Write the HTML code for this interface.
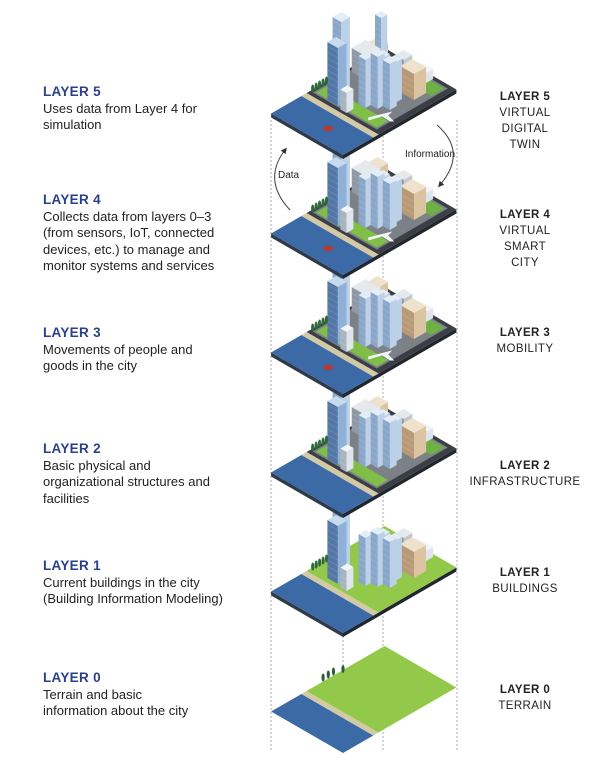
<!DOCTYPE html>
<html><head><meta charset="utf-8"><style>
body{margin:0;background:#fff;width:600px;height:778px;overflow:hidden;position:relative;font-family:"Liberation Sans",sans-serif}
svg{position:absolute;left:0;top:0}
.l{position:absolute;left:43px;font-size:13px;line-height:16.5px;color:#222}
.l b{color:#2c3f8f;font-size:13.5px;letter-spacing:.3px}
.r{position:absolute;width:120px;left:465px;text-align:center;font-size:11.5px;line-height:16px;color:#222;letter-spacing:.4px}
.r b{font-size:11.5px}
</style></head><body>
<svg id="s" width="600" height="778" viewBox="0 0 600 778"></svg>
<div class="l" style="top:84px"><b>LAYER 5</b><br>Uses data from Layer 4 for<br>simulation</div>
<div class="l" style="top:192px"><b>LAYER 4</b><br>Collects data from layers 0–3<br>(from sensors, IoT, connected<br>devices, etc.) to manage and<br>monitor systems and services</div>
<div class="l" style="top:325px"><b>LAYER 3</b><br>Movements of people and<br>goods in the city</div>
<div class="l" style="top:441px"><b>LAYER 2</b><br>Basic physical and<br>organizational structures and<br>facilities</div>
<div class="l" style="top:558px"><b>LAYER 1</b><br>Current buildings in the city<br>(Building Information Modeling)</div>
<div class="l" style="top:670px"><b>LAYER 0</b><br>Terrain and basic<br>information about the city</div>
<div class="r" style="top:89px"><b>LAYER 5</b><br>VIRTUAL<br>DIGITAL<br>TWIN</div>
<div class="r" style="top:207px"><b>LAYER 4</b><br>VIRTUAL<br>SMART<br>CITY</div>
<div class="r" style="top:325px"><b>LAYER 3</b><br>MOBILITY</div>
<div class="r" style="top:458px"><b>LAYER 2</b><br>INFRASTRUCTURE</div>
<div class="r" style="top:565px"><b>LAYER 1</b><br>BUILDINGS</div>
<div class="r" style="top:682px"><b>LAYER 0</b><br>TERRAIN</div>
<script>
var s=document.getElementById('s'),o='';
function P(u,v,h,B){return (343-0.866*u+0.866*v).toFixed(1)+','+(B-0.5*u-0.5*v-(h||0)).toFixed(1);}
function poly(pts,f,ex){o+='<polygon points="'+pts.join(' ')+'" fill="'+f+'" '+(ex||'')+'/>';}
function quad(u0,v0,u1,v1,f,B,h){h=h||0;poly([P(u0,v0,h,B),P(u1,v0,h,B),P(u1,v1,h,B),P(u0,v1,h,B)],f);}
function box(u0,v0,du,dv,h,B,c){
 var L=c[0],R=c[1],T=c[2];
 poly([P(u0,v0,0,B),P(u0+du,v0,0,B),P(u0+du,v0,h,B),P(u0,v0,h,B)],L);
 poly([P(u0,v0,0,B),P(u0,v0+dv,0,B),P(u0,v0+dv,h,B),P(u0,v0,h,B)],R);
 poly([P(u0,v0,h,B),P(u0+du,v0,h,B),P(u0+du,v0+dv,h,B),P(u0,v0+dv,h,B)],T);
 for(var k=6;k<h-2;k+=6){o+='<polyline points="'+P(u0,v0,k,B)+' '+P(u0+du,v0,k,B)+'" stroke="rgba(255,255,255,.12)" stroke-width="1" fill="none"/>';}
}
[271,343,383,457].forEach(function(x){o+='<line x1="'+x+'" y1="120" x2="'+x+'" y2="750" stroke="#999" stroke-width="0.8" stroke-dasharray="2,2"/>';});
var Bs=[753,633,514,394,275,155];
var blue=['#5577a8','#8fb1d8','#c7dbee'],lb=['#8aa6c9','#bcd1e8','#e3edf7'],be=['#b99a78','#dcc4a2','#efe2cc'],gr=['#8f98a3','#c0c7cf','#e6e9ec'],wh=['#a9b4c0','#dfe5ec','#f3f5f8'];
var bl=[
 [64,62,10,10,70,lb],[52,46,12,10,58,blue],[40,44,7,8,20,wh],
 [60,88,18,16,24,gr],[66,108,12,10,20,be],[48,118,10,10,12,gr],
 [34,60,8,8,48,lb],[26,66,8,8,52,lb],[18,72,8,8,46,lb],[30,76,8,8,44,lb],[22,82,8,8,40,lb],
 [14,96,16,14,26,be],[24,118,12,10,10,wh]
];
for(var i=0;i<6;i++){
 var B=Bs[i];
 if(i>0){
  poly([P(0,0,0,B),P(83,0,0,B),P(83,0,-4,B),P(0,0,-4,B)],'#2f3a4a');
  poly([P(0,0,0,B),P(0,131,0,B),P(0,131,-4,B),P(0,0,-4,B)],'#22272e');
 }
 quad(0,0,83,35,'#3c6aa6',B);
 quad(0,35,83,41,'#d3c9a5',B);
 if(i<2){quad(0,41,83,131,'#93c94a',B);}
 else{quad(0,41,83,131,'#3b3f45',B);quad(6,45,80,127,'#7c8187',B);quad(8,47,78,60,'#7fbf48',B);quad(8,110,78,125,'#6fb044',B);}
 if(i>0){
  var list=bl.slice();
  if(i==5)list.push([60,104,7,7,55,lb]);
  list.sort(function(a,b){return (b[0]+b[1])-(a[0]+a[1]);});
  list.forEach(function(b){
   if(i==1&&b[0]>55&&b[1]>80)return;
   box(b[0],b[1],b[2],b[3],b[4],B,b[5]);
  });
  for(var t=0;t<5;t++){var p=P(80,45+t*4,0,B).split(',');o+='<ellipse cx="'+p[0]+'" cy="'+(p[1]-4)+'" rx="1.6" ry="4" fill="#2f6b3a"/>';}
 } else {
  [[83,60],[83,66],[83,72],[80,80]].forEach(function(a){var p=P(a[0],a[1],0,B).split(',');o+='<ellipse cx="'+p[0]+'" cy="'+(p[1]-4)+'" rx="1.6" ry="4" fill="#2f5b3a"/>';});
 }
 if(i>=3){
  var p=P(12,55,4,B).split(',');o+='<path d="M'+(+p[0]-12)+','+p[1]+' l24,-6 l-4,4 l6,6 l-4,0 l-8,-5 l-14,4z" fill="#f2f4f7"/>';
  var q=P(35,18,0,B).split(',');o+='<ellipse cx="'+q[0]+'" cy="'+q[1]+'" rx="5" ry="2.5" fill="#c0392b"/>';
 }
}
o+='<defs><marker id="a" markerWidth="6" markerHeight="6" refX="3" refY="3" orient="auto"><path d="M0,0 L6,3 L0,6z" fill="#333"/></marker></defs>';
o+='<path d="M290,210 Q262,180 285,150" fill="none" stroke="#444" stroke-width="1" marker-end="url(#a)"/>';
o+='<path d="M437,125 Q468,152 440,185" fill="none" stroke="#444" stroke-width="1" marker-end="url(#a)"/>';
o+='<text x="278" y="178" font-size="10" font-family="Liberation Sans" fill="#222">Data</text>';
o+='<text x="405" y="157" font-size="10" font-family="Liberation Sans" fill="#222">Information</text>';
s.innerHTML=o;
</script>
</body></html>
